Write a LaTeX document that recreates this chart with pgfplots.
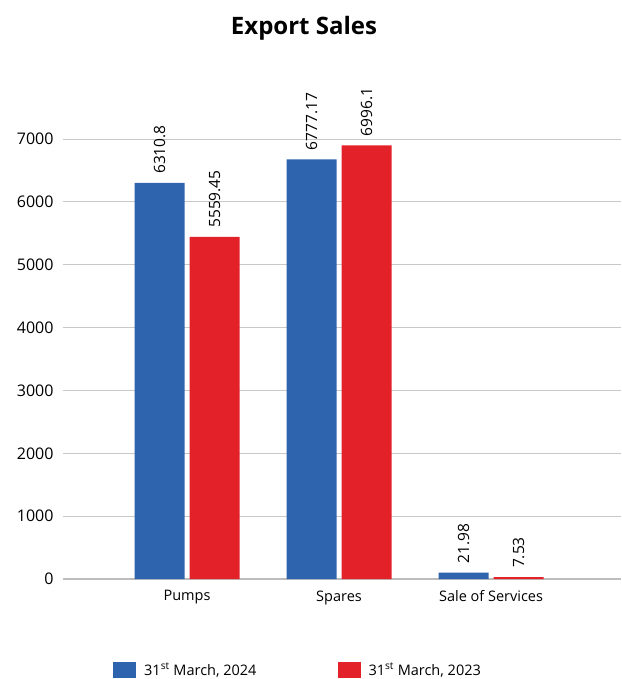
\documentclass[border=0pt]{standalone}
\usepackage{pgfplots}
\pgfplotsset{compat=1.18}
\usepackage{fontspec}
\setmainfont{Open Sans}
\definecolor{cblue}{HTML}{2E64AE}
\definecolor{cred}{HTML}{E32129}
\definecolor{cgrid}{HTML}{C8C8C8}
\definecolor{caxis}{HTML}{BDBDBD}
\begin{document}
\begin{tikzpicture}[x=1pt,y=1pt]
\useasboundingbox (-63,-100) rectangle (558,579);
\begin{axis}[
  at={(0,0)}, anchor=south west,
  scale only axis, width=558pt, height=440pt,
  xmin=-0.816, xmax=2.855, ymin=0, ymax=7000,
  ybar=5pt, bar width=50pt,
  clip=false,
  axis line style={draw=none},
  major tick length=0pt,
  ymajorgrids, grid style={cgrid, line width=0.8pt},
  ytick={0,1000,...,7000},
  extra y ticks={0}, extra y tick labels={},
  extra y tick style={grid style={caxis, line width=2.6pt}},
  xtick={0,1,2},
  xticklabels={Pumps, Spares, Sale of Services},
  /pgf/number format/assume math mode=true,
  /pgf/number format/set thousands separator={},
  yticklabel style={font=\fontsize{16}{19}\selectfont, xshift=-6pt},
  xticklabel style={font=\fontsize{14.5}{17}\selectfont, yshift=-8pt},
  point meta=explicit symbolic,
  nodes near coords={\pgfplotspointmeta},
  every node near coord/.append style={rotate=90, anchor=west, font=\fontsize{15.5}{18}\selectfont, inner xsep=9pt},
  legend columns=2,
  legend style={at={(0.0896,-0.2068)}, anchor=west, draw=none, inner sep=0pt,
    font=\fontsize{14.5}{17}\selectfont,
    /tikz/every odd column/.append style={column sep=6pt},
    /tikz/every even column/.append style={column sep=79pt}},
  legend image code/.code={\fill[#1] (0pt,-8pt) rectangle (23pt,8pt);},
]
\addplot[fill=cblue, draw=none] coordinates {(0,6300) [6310.8] (1,6677) [6777.17] (2,100) [21.98]};
\addplot[fill=cred, draw=none] coordinates {(0,5442) [5559.45] (1,6900) [6996.1] (2,30) [7.53]};
\legend{{31\textsuperscript{st} March, 2024}, {31\textsuperscript{st} March, 2023}}
\end{axis}
\node[font=\bfseries\fontsize{24}{27}\selectfont] at (241,551) {Export Sales};
\end{tikzpicture}
\end{document}
